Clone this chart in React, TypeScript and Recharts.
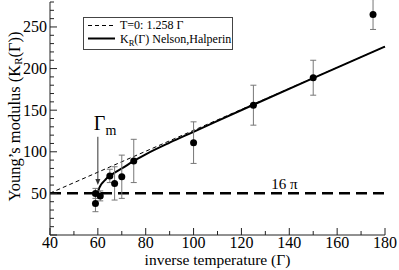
import {
  ComposedChart,
  Line,
  Scatter,
  ErrorBar,
  XAxis,
  YAxis,
  ReferenceLine,
  ReferenceDot,
} from "recharts";

const FONT = '"Liberation Serif", "DejaVu Serif", serif';
const FRAME = "#222";

// simulation points with error bars
const gammaPts = [59, 59, 61, 65, 67, 70, 75, 100, 125, 150, 175];
const kPts = [38, 50, 47, 71, 62, 70, 89, 111, 156, 189, 265];
const kErr = [10, 6, 6, 8, 20, 26, 26, 25, 24, 21, 18];

// K_R(Γ) Nelson, Halperin curve
const nhGamma = [60, 60.5, 61, 62, 63, 64, 65, 67, 70, 75, 80, 90, 100, 125, 150, 180];
const nhK = [50.3, 56, 59, 63, 66, 69, 71, 75, 80, 89, 97, 111, 124, 156.5, 188.5, 226.4];

// T=0 line: 1.258 Γ
const t0Gamma = [40, 180];
const t0K = [50.3, 226.4];

const sixteenPi = 50.27;
const gammaM = 60;
const arrowFrom = 118;
const arrowTo = 60;

const xTicks = [40, 50, 60, 70, 80, 90, 100, 110, 120, 130, 140, 150, 160, 170, 180];
const yTicks = [0, 10, 20, 30, 40, 50, 60, 70, 80, 90, 100, 110, 120, 130, 140, 150, 160, 170, 180, 190, 200, 210, 220, 230, 240, 250, 260, 270, 280];

const scatterData = gammaPts.map((x, i) => ({ x, y: kPts[i], err: kErr[i] }));
const nhData = nhGamma.map((x, i) => ({ x, y: nhK[i] }));
const t0Data = t0Gamma.map((x, i) => ({ x, y: t0K[i] }));

const BottomTick = (p: any) => {
  const v = p.payload.value;
  const major = v % 20 === 0;
  return (
    <g>
      <line x1={p.x} x2={p.x} y1={p.y} y2={p.y - (major ? 7 : 4)} stroke={FRAME} />
      {major && (
        <text x={p.x} y={p.y + 13} textAnchor="middle" fontSize={16} fontFamily={FONT} fill="#000">
          {v}
        </text>
      )}
    </g>
  );
};

const TopTick = (p: any) => {
  const major = p.payload.value % 20 === 0;
  return <line x1={p.x} x2={p.x} y1={p.y} y2={p.y + (major ? 7 : 4)} stroke={FRAME} />;
};

const LeftTick = (p: any) => {
  const v = p.payload.value;
  const major = v % 50 === 0;
  return (
    <g>
      <line x1={p.x} x2={p.x + (major ? 7 : 4)} y1={p.y} y2={p.y} stroke={FRAME} />
      {major && v > 0 && (
        <text x={p.x - 3} y={p.y + 5.5} textAnchor="end" fontSize={16} fontFamily={FONT} fill="#000">
          {v}
        </text>
      )}
    </g>
  );
};

const RightTick = (p: any) => {
  const major = p.payload.value % 50 === 0;
  return <line x1={p.x} x2={p.x - (major ? 7 : 4)} y1={p.y} y2={p.y} stroke={FRAME} />;
};

const YLabel = (p: any) => {
  const vb = p.viewBox;
  const cx = vb.x + 14;
  const cy = vb.y + vb.height / 2 - 2;
  return (
    <text
      x={cx}
      y={cy}
      transform={`rotate(-90, ${cx}, ${cy})`}
      textAnchor="middle"
      dominantBaseline="central"
      fontSize={16.5}
      fontFamily={FONT}
      fill="#000"
    >
      Young’s modulus (K
      <tspan dy={4} fontSize={11}>R</tspan>
      <tspan dy={-4}>(Γ))</tspan>
    </text>
  );
};

const GammaArrow = (p: any) => {
  const { x1, y1, x2, y2 } = p;
  return (
    <g>
      <line x1={x1} y1={y1} x2={x2} y2={y2 - 5} stroke="#333" strokeWidth={1} />
      <polygon points={`${x2 - 2.5},${y2 - 6} ${x2 + 2.5},${y2 - 6} ${x2},${y2}`} fill="#333" />
      <text x={x1 - 4} y={y1 - 7} fontSize={20} fontFamily={FONT} fill="#000">
        Γ
        <tspan dy={5} fontSize={14}>m</tspan>
      </text>
    </g>
  );
};

export default function App() {
  return (
    <div style={{ position: "absolute", left: 0, top: 0, width: 399, height: 270, background: "#fff" }}>
      <ComposedChart width={399} height={270} margin={{ top: 2, right: 14, bottom: 0, left: 0 }}>
        <XAxis
          xAxisId={0}
          dataKey="x"
          type="number"
          domain={[40, 180]}
          ticks={xTicks}
          interval={0}
          tickSize={0}
          tickMargin={0}
          tickLine={false}
          tick={BottomTick}
          axisLine={{ stroke: FRAME }}
          height={35}
          label={{
            value: "inverse temperature (Γ)",
            position: "insideBottom",
            offset: 5,
            style: { fontSize: 15.5, fontFamily: FONT, fill: "#000" },
          }}
        />
        <XAxis
          xAxisId="top"
          orientation="top"
          dataKey="x"
          type="number"
          domain={[40, 180]}
          ticks={xTicks}
          interval={0}
          tickSize={0}
          tickMargin={0}
          tickLine={false}
          tick={TopTick}
          axisLine={{ stroke: FRAME }}
          height={0}
        />
        <YAxis
          yAxisId={0}
          dataKey="y"
          type="number"
          domain={[0, 280]}
          allowDataOverflow
          ticks={yTicks}
          interval={0}
          tickSize={0}
          tickMargin={0}
          tickLine={false}
          tick={LeftTick}
          axisLine={{ stroke: FRAME }}
          width={50}
          label={{ content: YLabel }}
        />
        <YAxis
          yAxisId="right"
          orientation="right"
          dataKey="y"
          type="number"
          domain={[0, 280]}
          ticks={yTicks}
          interval={0}
          tickSize={0}
          tickMargin={0}
          tickLine={false}
          tick={RightTick}
          axisLine={{ stroke: FRAME }}
          width={0}
        />
        <ReferenceLine y={sixteenPi} stroke="#000" strokeWidth={2.5} strokeDasharray="11 6" />
        <ReferenceDot
          x={138}
          y={sixteenPi}
          r={0}
          stroke="none"
          fill="none"
          label={{ value: "16 π", position: "top", offset: 4, style: { fontSize: 15, fontFamily: FONT, fill: "#000" } }}
        />
        <Line
          xAxisId="top"
          yAxisId="right"
          data={t0Data}
          dataKey="y"
          type="linear"
          stroke="#000"
          strokeWidth={1}
          strokeDasharray="4 3"
          dot={false}
          isAnimationActive={false}
        />
        <Line
          data={nhData}
          dataKey="y"
          type="monotone"
          stroke="#000"
          strokeWidth={2}
          dot={false}
          isAnimationActive={false}
        />
        <Scatter
          data={scatterData}
          dataKey="y"
          isAnimationActive={false}
          shape={(p: any) => <circle cx={p.cx} cy={p.cy} r={3.5} fill="#000" />}
        >
          <ErrorBar dataKey="err" direction="y" width={3} stroke="#777" strokeWidth={1} />
        </Scatter>
        <ReferenceLine
          segment={[
            { x: gammaM, y: arrowFrom },
            { x: gammaM, y: arrowTo },
          ]}
          shape={GammaArrow}
        />
      </ComposedChart>
      <div
        style={{
          position: "absolute",
          left: 83,
          top: 17,
          width: 150,
          height: 33,
          boxSizing: "border-box",
          border: "1px solid #444",
          background: "#fff",
          fontFamily: FONT,
          fontSize: 12,
          color: "#000",
        }}
      >
        <svg width={30} height={31} style={{ position: "absolute", left: 3, top: 0 }}>
          <line x1={1} x2={28} y1={7.5} y2={7.5} stroke="#000" strokeWidth={1} strokeDasharray="4 3" />
          <line x1={1} x2={28} y1={20.5} y2={20.5} stroke="#000" strokeWidth={2} />
        </svg>
        <div style={{ position: "absolute", left: 36, top: 1, lineHeight: "13px", whiteSpace: "nowrap" }}>
          T=0: 1.258 Γ
        </div>
        <div style={{ position: "absolute", left: 36, top: 14.5, lineHeight: "13px", whiteSpace: "nowrap" }}>
          K<sub style={{ fontSize: 8.5, verticalAlign: "-3px", lineHeight: "8px" }}>R</sub>(Γ) Nelson,Halperin
        </div>
      </div>
    </div>
  );
}
